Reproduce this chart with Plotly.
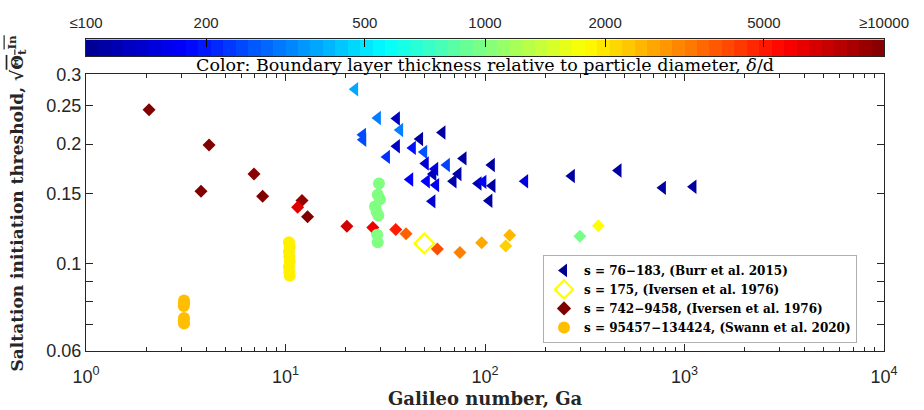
import numpy as np
import plotly.graph_objects as go

# ---------------- data ----------------
# Burr et al. 2015, s = 76-183 (left triangles)
burr_ga = [22.3, 29.0, 36.1, 37.5, 24.4, 24.5, 47.2, 61.1, 36.1, 43.4,
           49.5, 32.2, 77.9, 50.4, 64.3, 56.2, 108, 73.5, 55.0, 42.1,
           51.0, 56.8, 69.4, 92.6, 98.0, 108.8, 158.7, 272, 466, 54.4,
           105, 778, 1107]
burr_theta = [0.275, 0.2327, 0.232, 0.217, 0.211, 0.205, 0.206, 0.214, 0.1975, 0.1956,
              0.191, 0.1856, 0.184, 0.1787, 0.177, 0.173, 0.177, 0.168, 0.168, 0.1627,
              0.161, 0.1575, 0.161, 0.159, 0.1605, 0.157, 0.161, 0.166, 0.1715, 0.1433,
              0.1438, 0.155, 0.156]
burr_dd = [380, 316, 126, 316, 250, 250, 110, 110, 130, 190,
           260, 220, 110, 140, 240, 160, 110, 115, 125, 178,
           175, 165, 115, 120, 175, 110, 150, 110, 110, 140,
           110, 110, 110]

# Iversen et al. 1976, s = 175 (open diamond)
iv175_ga = [49.6]
iv175_theta = [0.1122]
iv175_dd = [1780]

# Iversen et al. 1976, s = 742-9458 (filled diamonds)
iv_ga = [2.07, 4.14, 3.77, 6.95, 7.68, 12.1, 12.9, 11.5, 20.3, 27.4,
         35.7, 40.2, 57.7, 74.9, 96.2, 127, 133, 299, 370]
iv_theta = [0.244, 0.199, 0.152, 0.168, 0.1477, 0.144, 0.131, 0.1385, 0.124, 0.123,
            0.1216, 0.1187, 0.1086, 0.1064, 0.1126, 0.1105, 0.1176, 0.1169, 0.1244]
iv_dd = [10000, 10000, 10000, 9500, 10000, 9000, 10000, 6460, 6900, 6000,
         5000, 3630, 3980, 3160, 2630, 2190, 2450, 955, 1780]

# Swann et al. 2020, s = 95457-134424 (circles)
sw_ga = [3.10, 3.10, 3.09, 3.10, 3.09, 3.10,
         10.4, 10.5, 10.4, 10.45, 10.5, 10.4, 10.45, 10.5,
         29.4, 29.0, 29.7, 28.1, 28.6, 29.2, 28.8, 29.0]
sw_theta = [0.0805, 0.079, 0.078, 0.0727, 0.0715, 0.0704,
            0.113, 0.110, 0.107, 0.104, 0.101, 0.098, 0.095, 0.093,
            0.159, 0.149, 0.145, 0.139, 0.135, 0.132, 0.118, 0.113]
sw_dd = [2370, 2370, 2370, 2370, 2370, 2370,
         1900, 1900, 1900, 1900, 1900, 1900, 1900, 1900,
         1000, 1000, 1000, 1000, 1000, 1000, 1000, 1000]

legend_names = ["s = 76\u2212183, (Burr et al. 2015)",
                "s = 175, (Iversen et al. 1976)",
                "s = 742\u22129458, (Iversen et al. 1976)",
                "s = 95457\u2212134424, (Swann et al. 2020)"]

cbar_vals = [100, 200, 500, 1000, 2000, 5000, 10000]
cbar_text = ["\u2264100", "200", "500", "1000", "2000", "5000", "\u226510000"]

x_tickvals = [1, 10, 100, 1000, 10000]
x_ticktext = ["10<sup>0</sup>", "10<sup>1</sup>", "10<sup>2</sup>", "10<sup>3</sup>", "10<sup>4</sup>"]
y_tickvals = [0.06, 0.07, 0.08, 0.09, 0.1, 0.15, 0.2, 0.25, 0.3]
y_ticktext = ["0.06", "", "", "", "0.1", "0.15", "0.2", "0.25", "0.3"]

# ---------------- style ----------------
jet = [[0.0, "#000090"], [0.125, "#0000ff"], [0.375, "#00ffff"],
       [0.625, "#ffff00"], [0.875, "#ff0000"], [1.0, "#800000"]]
AX = "#262626"
SERIF = "DejaVu Serif"
SANS = "Liberation Sans"


def cval(dd):
    return np.log10(np.asarray(dd, dtype=float))


fig = go.Figure()

common = dict(mode="markers", showlegend=False, hoverinfo="x+y")

fig.add_trace(go.Scatter(x=burr_ga, y=burr_theta, **common,
                         marker=dict(symbol="triangle-left", size=12.5, color=cval(burr_dd),
                                     colorscale=jet, cmin=2, cmax=4, line=dict(width=0))))
fig.add_trace(go.Scatter(x=iv175_ga, y=iv175_theta, **common,
                         marker=dict(symbol="diamond-open", size=15, color=cval(iv175_dd),
                                     colorscale=jet, cmin=2, cmax=4, line=dict(width=2.2))))
fig.add_trace(go.Scatter(x=iv_ga, y=iv_theta, **common,
                         marker=dict(symbol="diamond", size=10, color=cval(iv_dd),
                                     colorscale=jet, cmin=2, cmax=4, line=dict(width=0))))
fig.add_trace(go.Scatter(x=sw_ga, y=sw_theta, **common,
                         marker=dict(symbol="circle", size=12, color=cval(sw_dd),
                                     colorscale=jet, cmin=2, cmax=4, line=dict(width=0))))

# legend-only entries
leg_markers = [dict(symbol="triangle-left", size=12, color="#00008f"),
               dict(symbol="diamond-open", size=14, color="#ffff00", line=dict(width=2.2)),
               dict(symbol="diamond", size=11, color="#800000"),
               dict(symbol="circle", size=12, color="#ffbf00")]
for name, mk in zip(legend_names, leg_markers):
    fig.add_trace(go.Scatter(x=[None], y=[None], mode="markers", name=name, marker=mk,
                             showlegend=True))

# colorbar as heatmap on its own axes
edges = np.linspace(np.log10(cbar_vals[0]), np.log10(cbar_vals[-1]), 65)
centers = 0.5 * (edges[:-1] + edges[1:])
fig.add_trace(go.Heatmap(x=centers, y=[0.5], z=[centers], colorscale=jet, zmin=2, zmax=4,
                         showscale=False, hoverinfo="skip", xaxis="x2", yaxis="y2"))

# ---------------- layout ----------------
W, H = 924, 410
ml, mr, mt, mb = 86, 40, 10, 59
ph = H - mt - mb
plot_top_px = 66
y_top = (H - mb - plot_top_px) / ph
cb_top_px, cb_bot_px = 30, 47
cb_dom = [(H - mb - cb_bot_px) / ph, (H - mb - cb_top_px) / ph]


def py(px):
    return (H - mb - px) / ph


def pxx(px):
    return (px - ml) / (W - ml - mr)


fig.update_layout(
    width=W, height=H, margin=dict(l=ml, r=mr, t=mt, b=mb),
    plot_bgcolor="white", paper_bgcolor="white",
    xaxis=dict(type="log", range=[0, 4], domain=[0, 1], anchor="y",
               tickvals=x_tickvals, ticktext=x_ticktext,
               ticks="inside", ticklen=7, tickcolor=AX, tickwidth=1,
               minor=dict(ticks="inside", ticklen=4, tickcolor=AX, dtick="D1", showgrid=False),
               showline=True, linecolor=AX, linewidth=1, mirror="ticks",
               showgrid=False, zeroline=False, ticklabelstandoff=9,
               tickfont=dict(family=SANS, size=18, color=AX)),
    yaxis=dict(type="log", range=[np.log10(0.06), np.log10(0.3)], domain=[0, y_top], anchor="x",
               tickvals=y_tickvals, ticktext=y_ticktext,
               ticks="inside", ticklen=7, tickcolor=AX, tickwidth=1,
               showline=True, linecolor=AX, linewidth=1, mirror="ticks",
               showgrid=False, zeroline=False,
               tickfont=dict(family=SANS, size=18, color=AX)),
    xaxis2=dict(range=[2, 4], domain=[0, 1], anchor="y2", side="top",
                tickvals=list(np.log10(cbar_vals)), ticktext=cbar_text,
                ticks="inside", ticklen=8, tickcolor="#000000", tickwidth=1,
                showline=True, linecolor=AX, linewidth=1, mirror=True,
                showgrid=False, zeroline=False, ticklabelstandoff=4,
                tickfont=dict(family=SANS, size=15, color=AX)),
    yaxis2=dict(range=[0, 1], domain=cb_dom, anchor="x2",
                showticklabels=False, ticks="", showline=True, linecolor=AX,
                linewidth=1, mirror=True, showgrid=False, zeroline=False),
    legend=dict(x=pxx(543), y=py(252), xanchor="left", yanchor="top",
                bgcolor="white", bordercolor="#b0b0b0", borderwidth=1,
                font=dict(family=SERIF, size=12, color="#000000", weight="bold"),
                tracegroupgap=0, itemsizing="trace"),
    annotations=[
        dict(text="Color: Boundary layer thickness relative to particle diameter, <i>\u03b4</i>/d",
             xref="paper", yref="paper", x=0.5, y=py(56), xanchor="center", yanchor="middle",
             showarrow=False, font=dict(family=SERIF, size=17.5, color="#000000")),
        dict(text="Galileo number, Ga",
             xref="paper", yref="paper", x=0.5, y=py(400), xanchor="center", yanchor="middle",
             showarrow=False, font=dict(family=SERIF, size=18, color="#262626", weight="bold")),
        dict(text="Saltation initiation threshold, \u221a<span style='text-decoration:overline'>\u0398<sub>t</sub><sup>In</sup></span>",
             xref="paper", yref="paper", x=pxx(17), y=py(199), xanchor="center", yanchor="middle",
             textangle=-90, showarrow=False,
             font=dict(family=SERIF, size=17, color="#262626", weight="bold")),
    ],
)

fig.write_html("out.html")
